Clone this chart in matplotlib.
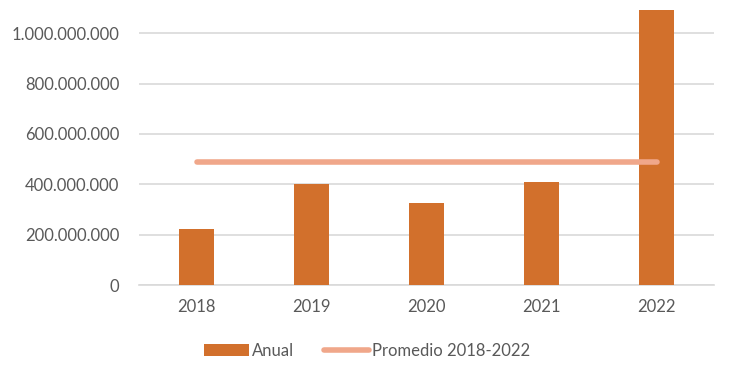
import numpy as np
import matplotlib.pyplot as plt
from matplotlib.ticker import FuncFormatter

plt.rcParams['font.family'] = ['Lato', 'DejaVu Sans']

years = ['2018', '2019', '2020', '2021', '2022']
anual = [222e6, 401e6, 325e6, 409e6, 1091e6]
promedio = np.mean(anual)

bar_color = '#D2702C'
line_color = '#F0A78A'
text_color = '#595959'

fig = plt.figure(figsize=(7.34, 3.68), dpi=100)
ax = fig.add_axes([139/734, 1 - 285/368, (714 - 139)/734, (285 - 8)/368])

x = np.arange(len(years))
bars = ax.bar(x, anual, width=0.31, color=bar_color, label='Anual', zorder=3)
line, = ax.plot(x, [promedio] * len(x), color=line_color, linewidth=4, solid_capstyle='round',
                label='Promedio 2018-2022', zorder=4)

ax.set_xlim(-0.5, len(years) - 0.5)
ax.set_ylim(0, 1.1e9)
ax.set_yticks(np.arange(0, 1.0e9 + 1, 2e8))
ax.yaxis.set_major_formatter(FuncFormatter(lambda v, p: '{:,.0f}'.format(v).replace(',', '.')))
ax.set_xticks(x)
ax.set_xticklabels(years)

ax.grid(axis='y', color='#D9D9D9', linewidth=1.2, zorder=0)
for s in ['top', 'right', 'left']:
    ax.spines[s].set_visible(False)
ax.spines['bottom'].set_color('#D9D9D9')
ax.spines['bottom'].set_linewidth(1.2)
ax.tick_params(length=0, colors=text_color, labelsize=12)
ax.tick_params(axis='x', pad=10)
ax.tick_params(axis='y', pad=14)

fig.legend(handles=[bars, line], loc='center', bbox_to_anchor=(0.5, 1 - 351/368), ncol=2,
           frameon=False, fontsize=12, labelcolor=text_color, handlelength=2.7,
           handletextpad=0.2, columnspacing=1.8)

fig.savefig('out.png', dpi=100)
